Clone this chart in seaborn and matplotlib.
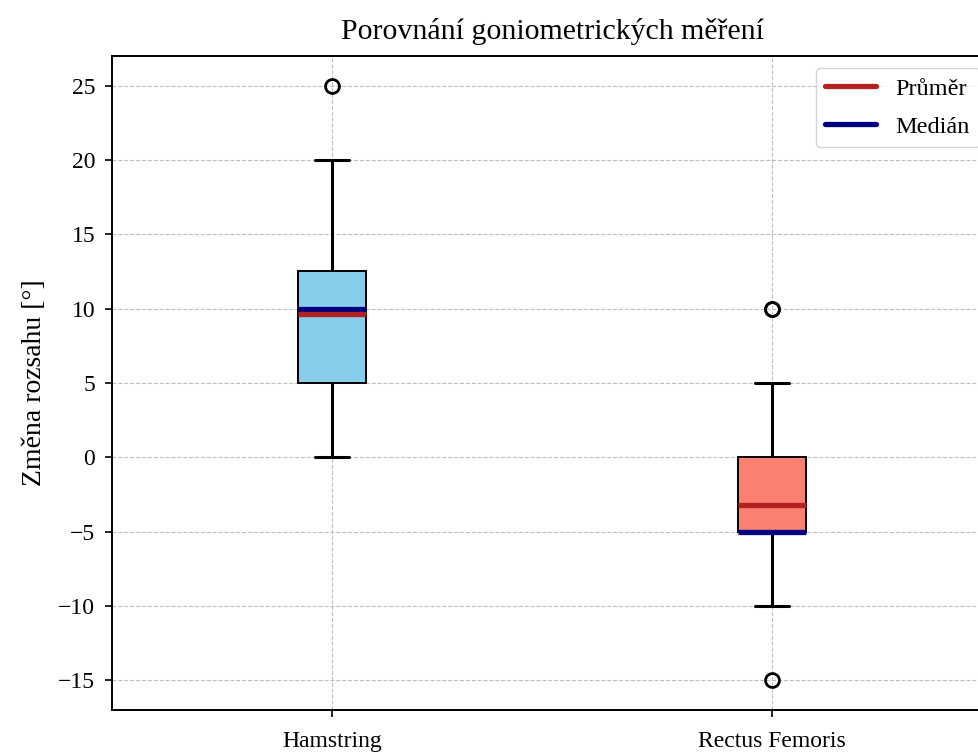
import numpy as np
import pandas as pd
import matplotlib
matplotlib.use("Agg")
import matplotlib.pyplot as plt
from matplotlib.lines import Line2D
import seaborn as sns

# data (degrees)
groups = ["Hamstring", "Rectus Femoris"]
hamstring = [0, 0, 5, 5, 5, 5, 10, 10, 10, 10, 10, 15, 15, 20, 25]
rectus = [-15, -10, -10, -5, -5, -5, -5, -5, -5, -5, -5, -5, 0, 0, 5, 10, 10]
box_colors = ["skyblue", "salmon"]
y_ticks = [-15, -10, -5, 0, 5, 10, 15, 20, 25]

df = pd.DataFrame({
    "sval": [groups[0]] * len(hamstring) + [groups[1]] * len(rectus),
    "value": hamstring + rectus,
})

sns.set_theme(style="ticks")
plt.rcParams["font.family"] = ["Liberation Serif", "DejaVu Serif"]
plt.rcParams.update({
    "axes.edgecolor": "black", "axes.linewidth": 1.4,
    "text.color": "black", "axes.labelcolor": "black",
    "xtick.color": "black", "ytick.color": "black",
})

fig = plt.figure(figsize=(9.79, 7.52), dpi=100)
ax = fig.add_axes([0.1144, 0.0559, 0.8989, 0.8697])

sns.boxplot(data=df, x="sval", y="value", hue="sval", palette=box_colors,
            order=groups, hue_order=groups, legend=False, saturation=1,
            width=0.155, linecolor="black", linewidth=1.4,
            showmeans=True, meanline=True,
            meanprops=dict(color="firebrick", linewidth=3.8, linestyle="-"),
            medianprops=dict(color="navy", linewidth=3.8),
            whiskerprops=dict(color="black", linewidth=2.2),
            capprops=dict(color="black", linewidth=2.2),
            flierprops=dict(marker="o", markersize=10, markerfacecolor="none",
                            markeredgecolor="black", markeredgewidth=2),
            ax=ax)

ax.set_ylim(-17, 27)
ax.set_yticks(y_ticks)
ax.set_yticklabels([str(t).replace("-", "\u2212") for t in y_ticks])
ax.grid(True, linestyle="--", linewidth=0.8, color="#b0b0b0", alpha=0.8)
ax.set_axisbelow(True)
ax.tick_params(axis="both", labelsize=17, length=5, width=1.2, pad=7)
ax.tick_params(axis="x", pad=10)
ax.set_xlabel("")
ax.set_ylabel("Změna rozsahu [°]", fontsize=20, labelpad=8)
ax.set_title("Porovnání goniometrických měření", fontsize=21.5, pad=12)

handles = [Line2D([0], [0], color="firebrick", lw=3.8),
           Line2D([0], [0], color="navy", lw=3.8)]
ax.legend(handles, ["Průměr", "Medián"], loc="upper right", fontsize=17.5,
          handlelength=2.1, labelspacing=0.65)

fig.savefig("out.png", dpi=100)
